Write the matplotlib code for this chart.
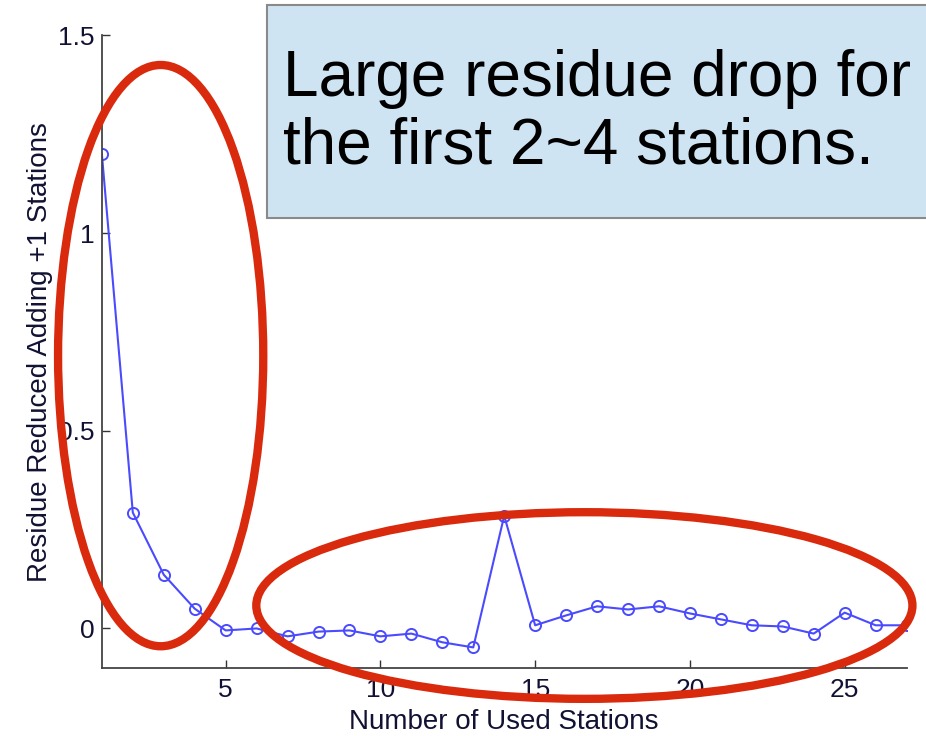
import matplotlib
matplotlib.use("Agg")

import numpy as np
import matplotlib.pyplot as plt
from matplotlib.patches import Ellipse, Rectangle

plt.rcParams["font.family"] = ["Liberation Sans", "DejaVu Sans"]

# residue reduction when adding one more station
stations = np.arange(1, 28)
residue = [1.20, 0.293, 0.136, 0.05, -0.005, 0.0, -0.02, -0.008, -0.005,
           -0.02, -0.013, -0.035, -0.048, 0.285, 0.008, 0.033, 0.056, 0.048,
           0.056, 0.038, 0.023, 0.008, 0.005, -0.013, 0.04, 0.008, 0.008]

x_ticks = [5, 10, 15, 20, 25]
y_ticks = [0, 0.5, 1, 1.5]
y_tick_labels = ["0", "0.5", "1", "1.5"]

note = "Large residue drop for\nthe first 2~4 stations."

fig = plt.figure(figsize=(9.26, 7.36), dpi=100)
ax = fig.add_axes([0.110, 0.0924, 0.869, 0.8596])

ax.plot(stations, residue, color="#4a4aff", lw=1.5,
        marker="o", markersize=8, markerfacecolor="none",
        markeredgecolor="#4a4aff", markeredgewidth=1.4)

ax.set_xlim(1, 27)
ax.set_ylim(-0.1, 1.5)
ax.set_xticks(x_ticks)
ax.set_yticks(y_ticks)
ax.set_yticklabels(y_tick_labels)
ax.tick_params(direction="in", length=6, width=1, labelsize=19,
               color="#333333", labelcolor="#111133")
ax.tick_params(axis="x", pad=7)
ax.tick_params(axis="y", pad=5)

for side in ["top", "right"]:
    ax.spines[side].set_visible(False)
for side in ["left", "bottom"]:
    ax.spines[side].set_color("#444444")
    ax.spines[side].set_linewidth(1.3)

ax.set_xlabel("Number of Used Stations", fontsize=20, color="#111133",
              labelpad=5)
ax.set_ylabel("Residue Reduced Adding +1 Stations", fontsize=20,
              color="#111133", labelpad=4)

# red highlight rings
red = "#d92a0e"
ax.add_patch(Ellipse((2.9, 0.69), 6.63, 1.47, fill=False,
                     edgecolor=red, lw=6, clip_on=False, zorder=5))
ax.add_patch(Ellipse((16.59, 0.058), 21.2, 0.472, fill=False,
                     edgecolor=red, lw=6, clip_on=False, zorder=5))

# callout box in the upper right
W, H = 926, 736
fig.patches.append(Rectangle((267 / W, 1 - 218 / H), 700 / W, 213 / H,
                             transform=fig.transFigure,
                             facecolor="#cfe4f3", edgecolor="#8a8a8a",
                             lw=1.5, zorder=6))
fig.text(283 / W, 1 - 113 / H, note, fontsize=46, color="black",
         ha="left", va="center", linespacing=1.16, zorder=7)

fig.savefig("out.png", dpi=100)
